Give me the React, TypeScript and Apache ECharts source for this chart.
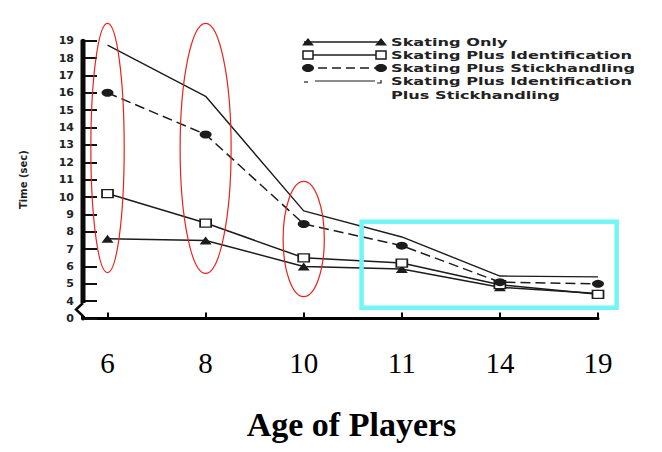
import React, { useEffect, useRef } from "react";
import * as echarts from "echarts";

// ---- data ----
const ages = ["6", "8", "10", "11", "14", "19"];
const skatingOnly = [7.6, 7.5, 6.0, 5.85, 4.8, 4.45];
const skatingPlusId = [10.2, 8.5, 6.5, 6.2, 4.95, 4.4];
const skatingPlusStick = [16.0, 13.6, 8.45, 7.2, 5.1, 5.0];
const skatingPlusIdStick = [18.75, 15.8, 9.2, 7.7, 5.45, 5.4];

const seriesNames = [
  "Skating Only",
  "Skating Plus Identification",
  "Skating Plus Stickhandling",
  "Skating Plus Identification\nPlus Stickhandling",
];

// annotation ellipses: [age index, top value, bottom value, half width (index units)]
const ellipseNotes = [
  [0, 20.0, 5.65, 0.17],
  [1, 20.0, 5.6, 0.26],
  [2, 10.9, 4.27, 0.21],
];
// highlight box: [x from, y top, x to, y bottom]
const boxNote = [[2.59, 8.57, 5.19, 3.62]];
// y axis break between these values
const yBreakFrom = 3.9;
const yBreakTo = 3.15;

const INK = "#1c1c1c";

function legendSymbol(kind: string, cx: number, cy: number) {
  if (kind === "triangle")
    return {
      type: "polygon",
      shape: { points: [[cx - 6, cy + 3.5], [cx, cy - 4], [cx + 6, cy + 3.5]] },
      style: { fill: INK },
    };
  if (kind === "square")
    return {
      type: "rect",
      shape: { x: cx - 5, y: cy - 4, width: 10, height: 8 },
      style: { fill: "#fff", stroke: INK, lineWidth: 1.5 },
    };
  if (kind === "circle")
    return { type: "ellipse", shape: { cx, cy, rx: 6, ry: 4 }, style: { fill: INK } };
  return {
    type: "polyline",
    shape: { points: [[cx - 2, cy + 2], [cx + 2, cy + 2], [cx + 2, cy - 1]] },
    style: { stroke: INK, lineWidth: 1.2, fill: "none" },
  };
}

export default function App() {
  const ref = useRef<HTMLDivElement>(null);

  useEffect(() => {
    const chart = echarts.init(ref.current!, null, { renderer: "svg" });

    const kinds = ["triangle", "square", "circle", "tick"];
    const dashes: any[] = ["solid", "solid", [9, 5], "solid"];
    const rowY = [42, 55, 68, 81];
    const legendEls: any[] = [];
    kinds.forEach((k, i) => {
      const y = rowY[i];
      if (k === "tick") {
        legendEls.push({ type: "line", shape: { x1: 304, y1: y + 1, x2: 308, y2: y + 1 }, style: { stroke: INK, lineWidth: 1.2 } });
        legendEls.push({ type: "line", shape: { x1: 315, y1: y, x2: 375, y2: y }, style: { stroke: INK, lineWidth: 1.2 } });
        legendEls.push(legendSymbol(k, 379, y));
      } else {
        legendEls.push({
          type: "line",
          shape: { x1: 304, y1: y, x2: 384, y2: y },
          style: { stroke: INK, lineWidth: 1.4, lineDash: dashes[i] === "solid" ? null : dashes[i] },
        });
        legendEls.push(legendSymbol(k, 308, y));
        legendEls.push(legendSymbol(k, 381, y));
      }
      legendEls.push({
        type: "text",
        x: 391,
        y: y - 7,
        scaleX: 1.47,
        style: {
          text: seriesNames[i],
          font: "bold 11px 'DejaVu Sans'",
          fill: "#222",
          verticalAlign: "top",
          lineHeight: 14,
        },
      });
    });

    const lineSeries = (name: string, values: number[], symbol: string, size: any, color: string, type: any, width = 1.5) => ({
      name,
      type: "line",
      data: values.map((v, i) => [i, v]),
      symbol,
      symbolSize: size,
      lineStyle: { color: INK, width, type },
      itemStyle: { color, borderColor: INK, borderWidth: symbol === "rect" ? 1.5 : 0 },
      z: 3,
    });

    const option: any = {
      animation: false,
      backgroundColor: "#fff",
      grid: { left: 83, right: 64, top: 40.7, bottom: 133.4 },
      xAxis: {
        type: "value",
        min: -0.25,
        max: 5,
        name: "Age of Players",
        nameLocation: "middle",
        nameGap: 89,
        nameTextStyle: {
          fontFamily: "Liberation Serif",
          fontWeight: "bold",
          fontSize: 34,
          color: "#000",
          padding: [0, 0, 0, 22],
        },
        axisLine: { onZero: false, lineStyle: { color: "#000", width: 3 } },
        axisTick: { customValues: [0, 1, 2, 3, 4, 5], inside: true, length: 6, lineStyle: { color: "#000", width: 2 } },
        axisLabel: {
          customValues: [0, 1, 2, 3, 4, 5],
          formatter: (v: number) => ages[Math.round(v)] ?? "",
          fontFamily: "Liberation Serif",
          fontSize: 29,
          color: "#000",
          margin: 30,
        },
        splitLine: { show: false },
      },
      yAxis: {
        type: "value",
        position: "left",
        min: 3,
        max: 19,
        interval: 1,
        name: "Time (sec)",
        nameLocation: "middle",
        nameRotate: 90,
        nameGap: 55,
        nameTextStyle: { fontFamily: "DejaVu Sans", fontWeight: "bold", fontSize: 10, color: "#222" },
        axisLine: { show: true, onZero: false, lineStyle: { color: "#000", width: 4 } },
        axisTick: { show: true, inside: true, length: 14, lineStyle: { color: "#111", width: 2 } },
        axisLabel: {
          formatter: (v: number) => (v === 3 ? "0" : String(v)),
          fontFamily: "DejaVu Sans",
          fontWeight: "bold",
          fontSize: 11,
          color: "#222",
          margin: 9,
        },
        splitLine: { show: false },
      },
      graphic: { elements: legendEls },
      series: [
        lineSeries(seriesNames[0], skatingOnly, "triangle", [12, 8], INK, "solid"),
        lineSeries(seriesNames[1], skatingPlusId, "rect", [11, 8], "#fff", "solid"),
        lineSeries(seriesNames[2], skatingPlusStick, "circle", [12, 8], INK, [10, 5]),
        lineSeries(seriesNames[3], skatingPlusIdStick, "none", 0, INK, "solid", 1.4),
        {
          type: "custom",
          name: "ellipses",
          clip: false,
          silent: true,
          z: 6,
          data: ellipseNotes,
          encode: { x: 0, y: [1, 2] },
          renderItem: (_p: any, api: any) => {
            const x = api.value(0);
            const hw = api.value(3);
            const p1 = api.coord([x - hw, api.value(1)]);
            const p2 = api.coord([x + hw, api.value(2)]);
            return {
              type: "ellipse",
              shape: { cx: (p1[0] + p2[0]) / 2, cy: (p1[1] + p2[1]) / 2, rx: (p2[0] - p1[0]) / 2, ry: (p2[1] - p1[1]) / 2 },
              style: { fill: "none", stroke: "#e8231c", lineWidth: 1.2 },
            };
          },
        },
        {
          type: "custom",
          name: "box",
          clip: false,
          silent: true,
          z: 6,
          data: boxNote,
          encode: { x: [0, 2], y: [1, 3] },
          renderItem: (_p: any, api: any) => {
            const p1 = api.coord([api.value(0), api.value(1)]);
            const p2 = api.coord([api.value(2), api.value(3)]);
            return {
              type: "rect",
              shape: { x: p1[0], y: p1[1], width: p2[0] - p1[0], height: p2[1] - p1[1] },
              style: { fill: "none", stroke: "#72f5f5", lineWidth: 4.5 },
            };
          },
        },
      ],
    };

    chart.setOption(option);

    // y axis bar with a break mark, positioned through the axes' own scales
    const P = (x: number, y: number) => chart.convertToPixel({ gridIndex: 0 }, [x, y]) as number[];
    const top = P(-0.25, 19);
    const a = P(-0.25, yBreakFrom);
    const b = P(-0.25, yBreakTo);
    const bot = P(-0.25, 3);
    const mid = (a[1] + b[1]) / 2;
    const axisEls = [
      { type: "rect", z: 50, shape: { x: a[0] - 4, y: a[1], width: 8, height: b[1] - a[1] }, style: { fill: "#fff" } },
      { type: "rect", z: 51, shape: { x: top[0] - 2.5, y: top[1] - 1, width: 5, height: a[1] - top[1] + 1 }, style: { fill: "#0a0a0a" } },
      {
        type: "polyline",
        z: 51,
        shape: { points: [[a[0], a[1]], [a[0] - 7, mid], [b[0], b[1]], [bot[0], bot[1]]] },
        style: { stroke: "#0a0a0a", lineWidth: 2.5, fill: "none" },
      },
    ];
    chart.setOption({ graphic: { elements: [...legendEls, ...axisEls] } });

    return () => chart.dispose();
  }, []);

  return (
    <div
      ref={ref}
      style={{ position: "absolute", left: 0, top: 0, width: 662, height: 452, background: "#fff" }}
    />
  );
}
